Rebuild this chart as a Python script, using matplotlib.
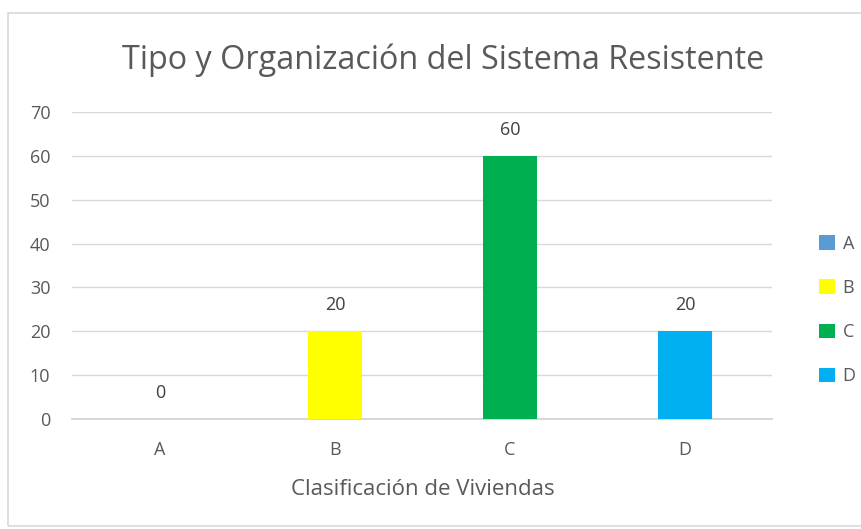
import matplotlib
matplotlib.use("Agg")
import matplotlib.pyplot as plt
from matplotlib.patches import Rectangle, Patch

categories = ["A", "B", "C", "D"]
values = [0, 20, 60, 20]
colors = ["#5B9BD5", "#FFFF00", "#00B050", "#00B0F0"]
yticks = [0, 10, 20, 30, 40, 50, 60, 70]
title = "Tipo y Organización del Sistema Resistente"
xlabel = "Clasificación de Viviendas"

plt.rcParams['font.family'] = ['Open Sans', 'DejaVu Sans']
txt = "#595959"

fig = plt.figure(figsize=(8.62, 5.29), dpi=100)
ax = fig.add_axes([72.5/862, (529-419)/529, (772.5-72.5)/862, (419-112)/529])

x = list(range(len(categories)))
bars = ax.bar(x, values, width=0.314, color=colors, zorder=3)
for xi, v in zip(x, values):
    ax.text(xi, v + 5.9, str(v), ha="center", va="center", fontsize=13, color="#404040")

ax.set_xlim(-0.5, 3.5)
ax.set_ylim(0, 70)
ax.set_yticks(yticks)
ax.set_xticks(x)
ax.set_xticklabels(categories)
ax.tick_params(axis="both", length=0, labelsize=13, colors=txt)
ax.tick_params(axis="y", pad=16)
ax.tick_params(axis="x", pad=16)
ax.yaxis.grid(True, color="#D9D9D9", linewidth=1, zorder=0)
for s in ["top", "right", "left"]:
    ax.spines[s].set_visible(False)
ax.spines["bottom"].set_color("#D0D0D0")
ax.spines["bottom"].set_linewidth(1.2)
ax.set_xlabel(xlabel, fontsize=16, color=txt, labelpad=14)

fig.text(443/862, 1 - 60/529, title, ha="center", va="center", fontsize=23.3, color=txt)

handles = [Patch(facecolor=c, edgecolor="none") for c in colors]
leg = fig.legend(handles, categories, loc="center left", bbox_to_anchor=(803/862, 1 - 310/529),
                 frameon=False, fontsize=13, labelspacing=1.45, handlelength=0.85,
                 handleheight=0.85, handletextpad=0.45, labelcolor=txt)

fig.patches.append(Rectangle((8/862, 0.005), 1.2, 1 - 13/529 - 0.005, transform=fig.transFigure,
                             fill=False, edgecolor="#D9D9D9", linewidth=1.2))

fig.savefig("out.png", dpi=100, facecolor="white")
